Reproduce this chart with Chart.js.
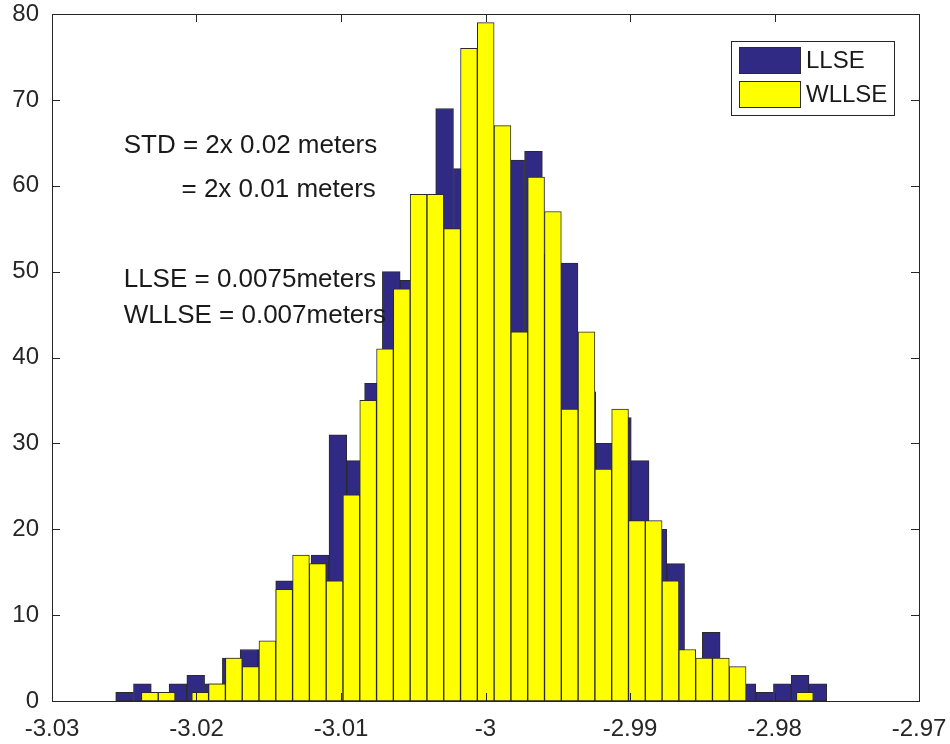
<!DOCTYPE html>
<html><head><meta charset="utf-8">
<script src="https://cdn.jsdelivr.net/npm/chart.js@4.4.1/dist/chart.umd.min.js"></script>
<style>html,body{margin:0;padding:0;background:#fff;}</style>
</head><body>
<canvas id="c" width="950" height="744" style="width:950px;height:744px;display:block"></canvas>
<script>
// ---------- data ----------
const seriesNames = ['LLSE', 'WLLSE'];
const seriesColors = ['#312a84', '#ffff00'];

// LLSE histogram: bin centers and counts (40 bins)
const llseCenters = [
  -3.024975, -3.023745, -3.022515, -3.021284, -3.020054, -3.018824, -3.017594, -3.016364,
  -3.015133, -3.013903, -3.012673, -3.011443, -3.010213, -3.008982, -3.007752, -3.006522,
  -3.005292, -3.004062, -3.002831, -3.001601, -3.000371, -2.999141, -2.997911, -2.996680,
  -2.995450, -2.994220, -2.992990, -2.991760, -2.990529, -2.989299, -2.988069, -2.986839,
  -2.985609, -2.984378, -2.983148, -2.981918, -2.980688, -2.979458, -2.978227, -2.976997
];
const llseCounts = [
  1, 2, 0, 2, 3, 2, 5, 6,
  6, 14, 14, 17, 31, 28, 37, 50,
  49, 55, 69, 62, 72, 57, 63, 64,
  52, 51, 36, 30, 33, 28, 20, 16,
  4, 8, 3, 2, 1, 2, 3, 2
];

// WLLSE histogram: bin centers and counts (40 bins)
const wllseCenters = [
  -3.023230, -3.022068, -3.020905, -3.019743, -3.018581, -3.017418, -3.016256, -3.015094,
  -3.013932, -3.012769, -3.011607, -3.010445, -3.009282, -3.008120, -3.006958, -3.005796,
  -3.004633, -3.003471, -3.002309, -3.001146, -2.999984, -2.998822, -2.997659, -2.996497,
  -2.995335, -2.994173, -2.993010, -2.991848, -2.990686, -2.989523, -2.988361, -2.987199,
  -2.986036, -2.984874, -2.983712, -2.982550, -2.981387, -2.980225, -2.979063, -2.977900
];
const wllseCounts = [
  1, 1, 0, 1, 2, 5, 4, 7,
  13, 17, 16, 14, 24, 35, 41, 48,
  59, 59, 55, 76, 79, 67, 43, 61,
  57, 34, 43, 27, 34, 21, 21, 14,
  6, 5, 5, 4, 0, 0, 0, 1
];

const xTicks = [-3.03, -3.02, -3.01, -3, -2.99, -2.98, -2.97];
const xTickLabels = ['-3.03', '-3.02', '-3.01', '-3', '-2.99', '-2.98', '-2.97'];
const yTicks = [0, 10, 20, 30, 40, 50, 60, 70, 80];

// text annotations (data coordinates)
const noteX = [-3.02504, -3.02104, -3.02504, -3.02504];
const noteY = [64.6, 59.5, 49.0, 44.9];
const noteText = ['STD = 2x 0.02 meters', '= 2x 0.01 meters', 'LLSE = 0.0075meters', 'WLLSE = 0.007meters'];

// ---------- styling ----------
const FONT = "'Liberation Sans', Arial, Helvetica, sans-serif";
const AXIS_COLOR = '#262626';
const TICK_LEN = 8;

const toXY = (xs, ys) => xs.map((x, i) => ({ x: x, y: ys[i] }));
const noPad = s => { s.paddingLeft = 0; s.paddingRight = 0; s.paddingTop = 0; s.paddingBottom = 0; };

const framePlugin = {
  id: 'frame',
  afterDatasetsDraw(chart) {
    const ctx = chart.ctx, a = chart.chartArea;
    const sx = chart.scales.x, sy = chart.scales.y;
    ctx.save();
    ctx.strokeStyle = AXIS_COLOR;
    ctx.lineWidth = 1;
    ctx.beginPath();
    xTicks.forEach(v => {
      const p = Math.round(sx.getPixelForValue(v)) + 0.5;
      ctx.moveTo(p, a.bottom); ctx.lineTo(p, a.bottom - TICK_LEN);
      ctx.moveTo(p, a.top); ctx.lineTo(p, a.top + TICK_LEN);
    });
    yTicks.forEach(v => {
      const p = Math.round(sy.getPixelForValue(v)) + 0.5;
      ctx.moveTo(a.left, p); ctx.lineTo(a.left + TICK_LEN, p);
      ctx.moveTo(a.right, p); ctx.lineTo(a.right - TICK_LEN, p);
    });
    ctx.stroke();
    ctx.strokeRect(Math.round(a.left) + 0.5, Math.round(a.top) + 0.5,
                   Math.round(a.right - a.left), Math.round(a.bottom - a.top));
    ctx.restore();
  }
};

const notesPlugin = {
  id: 'notes',
  afterDatasetsDraw(chart) {
    const ctx = chart.ctx;
    const sx = chart.scales.x, sy = chart.scales.y;
    ctx.save();
    ctx.fillStyle = '#1a1a1a';
    ctx.font = '26px ' + FONT;
    ctx.textAlign = 'left';
    ctx.textBaseline = 'middle';
    noteText.forEach((t, i) => {
      ctx.fillText(t, sx.getPixelForValue(noteX[i]), sy.getPixelForValue(noteY[i]));
    });
    ctx.restore();
  }
};

const legendPlugin = {
  id: 'boxLegend',
  afterDraw(chart) {
    const ctx = chart.ctx, a = chart.chartArea;
    const ds = chart.data.datasets;
    const boxRight = a.right - 25, boxTop = a.top + 27;
    const boxW = 163, rowH = 34, boxH = 8 + ds.length * rowH - 2;
    const boxLeft = boxRight - boxW;
    ctx.save();
    ctx.fillStyle = '#ffffff';
    ctx.fillRect(boxLeft, boxTop, boxW, boxH);
    ctx.strokeStyle = AXIS_COLOR;
    ctx.lineWidth = 1;
    ctx.strokeRect(Math.round(boxLeft) + 0.5, Math.round(boxTop) + 0.5, boxW, boxH);
    ctx.font = '24px ' + FONT;
    ctx.textAlign = 'left';
    ctx.textBaseline = 'middle';
    ds.forEach((d, i) => {
      const y0 = boxTop + 6 + i * rowH;
      ctx.fillStyle = d.backgroundColor;
      ctx.fillRect(boxLeft + 8, y0, 61, 26);
      ctx.strokeStyle = '#2a2a2a';
      ctx.strokeRect(Math.round(boxLeft + 8) + 0.5, Math.round(y0) + 0.5, 61, 26);
      ctx.fillStyle = '#1a1a1a';
      ctx.fillText(d.label, boxLeft + 75, y0 + 14);
    });
    ctx.restore();
  }
};

new Chart(document.getElementById('c'), {
  type: 'bar',
  data: {
    datasets: [
      {
        label: seriesNames[0],
        data: toXY(llseCenters, llseCounts),
        backgroundColor: seriesColors[0],
        borderColor: '#2a2a2a',
        borderWidth: 1,
        borderSkipped: false,
        barPercentage: 1,
        categoryPercentage: 1,
        grouped: false,
        xAxisID: 'x2',
        order: 2
      },
      {
        label: seriesNames[1],
        data: toXY(wllseCenters, wllseCounts),
        backgroundColor: seriesColors[1],
        borderColor: '#2a2a2a',
        borderWidth: 1,
        borderSkipped: false,
        barPercentage: 1,
        categoryPercentage: 1,
        grouped: false,
        xAxisID: 'x',
        order: 1
      }
    ]
  },
  options: {
    responsive: false,
    animation: false,
    devicePixelRatio: 1,
    layout: { padding: { left: 0, right: 31, top: 14, bottom: 0 } },
    plugins: { legend: { display: false }, tooltip: { enabled: false } },
    scales: {
      x: {
        type: 'linear',
        position: 'bottom',
        min: -3.03, max: -2.97,
        offset: false,
        grid: { display: false, drawTicks: false },
        border: { display: false },
        afterBuildTicks: s => { s.ticks = xTicks.map(v => ({ value: v })); },
        afterFit: s => { s.height = 43; noPad(s); },
        ticks: {
          autoSkip: false, maxRotation: 0, padding: 14,
          color: AXIS_COLOR,
          font: { family: FONT, size: 24 },
          callback: (v) => { const i = xTicks.findIndex(t => Math.abs(t - v) < 1e-9); return i >= 0 ? xTickLabels[i] : ''; }
        }
      },
      x2: {
        type: 'linear',
        position: 'bottom',
        display: false,
        min: -3.03, max: -2.97,
        offset: false,
        grid: { display: false },
        afterFit: s => { noPad(s); }
      },
      y: {
        type: 'linear',
        min: 0, max: 80,
        grid: { display: false, drawTicks: false },
        border: { display: false },
        afterBuildTicks: s => { s.ticks = yTicks.map(v => ({ value: v })); },
        afterFit: s => { s.width = 52; noPad(s); },
        ticks: {
          padding: 13,
          color: AXIS_COLOR,
          font: { family: FONT, size: 24 },
          callback: v => String(v)
        }
      }
    }
  },
  plugins: [framePlugin, notesPlugin, legendPlugin]
});
</script>
</body></html>
